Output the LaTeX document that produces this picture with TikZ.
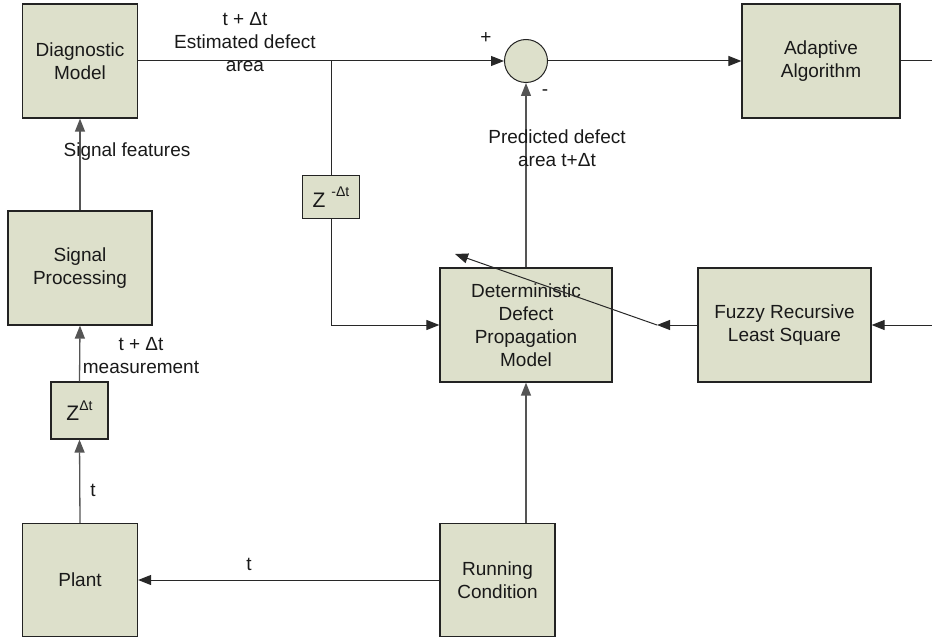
\documentclass[tikz,border=0pt]{standalone}
\usepackage{fontspec}
\setmainfont{Liberation Sans}
\usetikzlibrary{arrows.meta}
\definecolor{boxfill}{RGB}{221,224,203}
\definecolor{edgecol}{RGB}{35,35,35}
\definecolor{wirecol}{RGB}{40,40,40}
\definecolor{vwirecol}{RGB}{85,85,85}
\definecolor{txtcol}{RGB}{25,25,25}
\newcommand{\sups}[1]{\raisebox{0.5em}{\fontsize{14}{14}\selectfont #1}}
\begin{document}
\begin{tikzpicture}[x=1pt,y=-1pt,
  font=\fontsize{19}{23}\selectfont, text=txtcol,
  blk/.style={draw=edgecol,line width=1.2pt,fill=boxfill,inner sep=0pt,align=center},
  lbl/.style={inner sep=0pt,align=center},
  wire/.style={draw=wirecol,line width=1pt},
  vwire/.style={draw=vwirecol,line width=1.3pt},
  tip/.style={-{Triangle[length=13pt,width=10pt]}}]
\useasboundingbox (0,0) rectangle (932,639);

% blocks
\node[blk,minimum width=115pt,minimum height=114pt] (diag) at (80,61) {Diagnostic\\Model};
\node[blk,minimum width=144pt,minimum height=114pt] (sig) at (80,268) {Signal\\Processing};
\node[blk,minimum width=57pt,minimum height=57pt] (zp) at (79.5,410.5) {\fontsize{21}{23}\selectfont Z\sups{Δt}};
\node[blk,minimum width=115pt,minimum height=113pt] (plant) at (80,580) {Plant};
\node[blk,minimum width=115pt,minimum height=113pt] (run) at (497.5,580) {Running\\Condition};
\node[blk,minimum width=172pt,minimum height=114pt] (det) at (526,325) {Deterministic\\Defect\\Propagation\\Model};
\node[blk,minimum width=173pt,minimum height=114pt] (frls) at (784.5,325) {Fuzzy Recursive\\Least Square};
\node[blk,minimum width=158pt,minimum height=114pt] (adapt) at (821,61) {Adaptive\\Algorithm};
\node[blk,minimum width=57pt,minimum height=43pt] (zm) at (331,197) {\fontsize{21}{23}\selectfont Z \sups{-Δt}};
\node[blk,circle,minimum size=43pt,line width=1pt] (sum) at (526,61) {};

% helper points
\coordinate (j) at (331,61);
\coordinate (outR) at (932,61);
\coordinate (inR) at (932,325);
\coordinate (k) at (657,325);
\coordinate (m) at (455,254);

% connectors
\draw[vwire,tip] (plant.north) -- (zp.south);
\draw[vwire,tip] (zp.north) -- (sig.south);
\draw[vwire,tip] (sig.north) -- (diag.south);
\draw[wire,tip] (diag.east) -- (sum.west);
\draw[wire] (j) -- (zm.north);
\draw[wire,tip] (zm.south) |- (det.west);
\draw[vwire,tip] (det.north) -- (sum.south);
\draw[wire,tip] (sum.east) -- (adapt.west);
\draw[wire] (adapt.east) -- (outR);
\draw[wire,tip] (inR) -- (frls.east);
\draw[wire,tip] (frls.west) -- (k);
\draw[wire,tip] (k) -- (m);
\draw[wire,tip] (run.west) -- (plant.east);
\draw[vwire,tip] (det.south |- run.north) -- (det.south);

% labels
\node[lbl] (l1) at (245,42) {t + Δt\\Estimated defect\\area};
\node[lbl] (l2) at (127,152) {Signal features};
\node[lbl] (l3) at (141,356) {t + Δt\\measurement};
\node[lbl] (l4) at (93,490) {t};
\node[lbl] (l5) at (249,564) {t};
\node[lbl] (l6) at (486,38) {+};
\node[lbl] (l7) at (545,93) {-};
\node[lbl] (l8) at (557,148) {Predicted defect\\area t+Δt};
\end{tikzpicture}
\end{document}
